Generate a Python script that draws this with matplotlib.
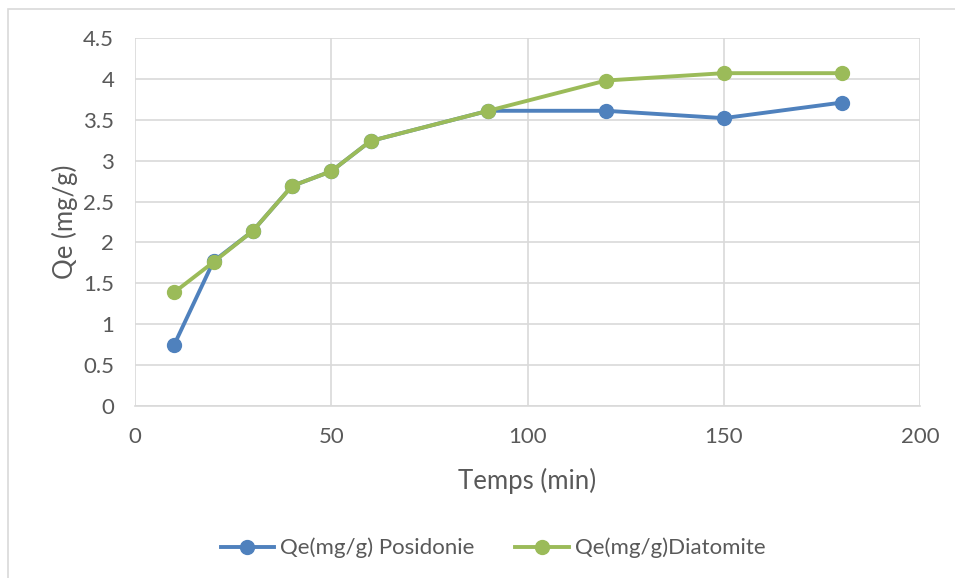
import matplotlib
matplotlib.use('Agg')
from matplotlib import pyplot as plt
from matplotlib.patches import Rectangle

# temps de contact et quantités adsorbées
temps = [10, 20, 30, 40, 50, 60, 90, 120, 150, 180]
qe_posidonie = [0.75, 1.77, 2.14, 2.69, 2.87, 3.24, 3.61, 3.61, 3.52, 3.71]
qe_diatomite = [1.39, 1.76, 2.14, 2.69, 2.87, 3.24, 3.61, 3.98, 4.07, 4.07]

plt.rcParams['font.family'] = ['Lato', 'DejaVu Sans']
gris = '#595959'
grille = '#d9d9d9'

fig = plt.figure(figsize=(9.55, 5.78), dpi=100)
ax = fig.add_axes([135 / 955, 1 - 406 / 578, 785 / 955, 368 / 578])

# cadre du graphique
fig.patches.append(Rectangle((8 / 955, -0.1), 1.2, 1 - 9 / 578 + 0.1,
                             transform=fig.transFigure, fill=False,
                             edgecolor=grille, linewidth=1.2))

ax.plot(temps, qe_posidonie, color='#4f81bd', linewidth=2.8, marker='o',
        markersize=10, label='Qe(mg/g) Posidonie', zorder=3)
ax.plot(temps, qe_diatomite, color='#9bbb59', linewidth=2.8, marker='o',
        markersize=10, label='Qe(mg/g)Diatomite', zorder=3)

ax.set_xlim(0, 200)
ax.set_ylim(0, 4.5)
ax.set_xticks([0, 50, 100, 150, 200])
ax.set_yticks([0, 0.5, 1, 1.5, 2, 2.5, 3, 3.5, 4, 4.5])
ax.set_yticklabels(['0', '0.5', '1', '1.5', '2', '2.5', '3', '3.5', '4', '4.5'])
ax.grid(True, color=grille, linewidth=1.2)
ax.set_axisbelow(True)
for s in ax.spines.values():
    s.set_visible(False)
ax.spines['bottom'].set_visible(True)
ax.spines['bottom'].set_color(grille)
ax.spines['bottom'].set_linewidth(1.2)
ax.tick_params(axis='both', length=0, labelsize=16, labelcolor=gris)
ax.tick_params(axis='x', pad=15)
ax.tick_params(axis='y', pad=15)

ax.set_xlabel('Temps (min)', fontsize=18.5, color=gris, labelpad=15)
ax.set_ylabel('Qe (mg/g)', fontsize=18.5, color=gris, labelpad=4)

fig.legend(loc='center', bbox_to_anchor=(493 / 955, 1 - 548 / 578), ncol=2,
           frameon=False, fontsize=16, labelcolor=gris, handlelength=2.4,
           columnspacing=1.85, handletextpad=0.27)

fig.savefig('out.png', dpi=100)
